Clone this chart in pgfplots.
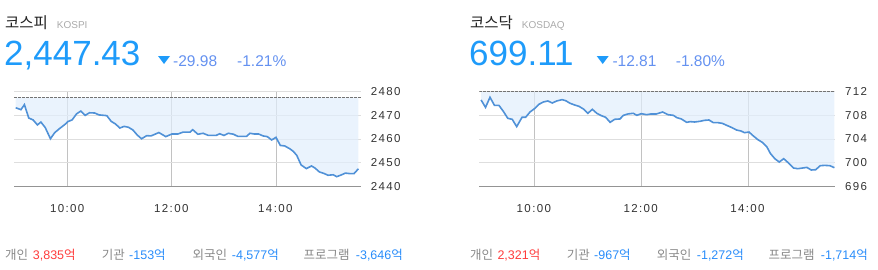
\documentclass[border=0pt]{standalone}
\usepackage{pgfplots}
\pgfplotsset{compat=1.18}
\usepackage{pgfplotstable}
\usepgfplotslibrary{fillbetween}
\usepackage{fontspec}
\setmainfont{Liberation Sans}
\newfontfamily\kr{Noto Sans CJK KR}
\newfontfamily\tickfont[LetterSpace=12]{Liberation Sans}
\definecolor{bignum}{RGB}{30,155,250}
\definecolor{chg}{RGB}{100,145,240}
\definecolor{lineblue}{RGB}{80,145,215}
\definecolor{fillblue}{RGB}{225,238,252}
\definecolor{upred}{RGB}{255,60,60}
\definecolor{dnblue}{RGB}{40,140,250}
\definecolor{lblgray}{RGB}{136,136,136}
\definecolor{ticktxt}{RGB}{51,51,51}
\definecolor{titlec}{RGB}{34,34,34}
\definecolor{subc}{RGB}{170,170,170}

\pgfplotstableread{
t v
0 2473.1
6 2472.3
10 2474.4
15 2468.8
20 2468.0
25 2465.9
29 2467.1
34 2464.8
40 2460.1
45 2462.7
51 2464.5
57 2466.2
60 2467.3
65 2468.0
70 2470.5
75 2471.7
80 2469.9
85 2471.0
91 2470.9
96 2470.1
105 2469.8
110 2467.4
115 2466.3
120 2464.6
125 2465.3
130 2464.9
135 2463.8
140 2461.7
145 2460.1
151 2461.4
156 2461.3
165 2462.7
173 2461.0
180 2462.1
187 2462.1
193 2462.9
201 2462.9
204 2463.9
210 2462.0
216 2462.4
222 2461.5
231 2461.5
235 2462.2
240 2461.5
245 2462.4
251 2462.0
256 2461.1
266 2461.1
270 2462.4
275 2462.1
280 2462.1
285 2461.3
290 2461.0
295 2459.6
300 2460.7
305 2457.3
310 2457.1
316 2455.9
320 2454.8
324 2453.1
329 2449.1
335 2447.6
341 2448.7
345 2447.8
350 2446.2
355 2445.6
360 2444.8
366 2445.0
370 2444.2
375 2444.9
380 2445.7
385 2445.5
390 2445.5
395 2447.5
}\kospi

\pgfplotstableread{
t v
0 710.55
5 709.3
10 711.0
15 709.65
20 709.65
25 708.64
30 707.47
35 707.30
40 706.07
46 707.64
50 707.64
55 708.53
60 709.09
65 709.82
70 710.21
75 710.38
80 710.04
85 710.38
91 710.60
95 710.43
100 709.99
105 709.71
110 709.48
115 709.03
120 708.31
125 708.98
130 708.31
135 707.92
140 707.64
145 706.80
150 707.30
156 707.36
160 707.97
165 708.20
171 708.31
175 707.97
180 708.25
186 708.08
191 708.20
197 708.20
204 708.53
210 708.08
216 707.97
220 707.58
225 707.36
231 706.80
235 706.91
240 706.85
246 706.97
251 707.13
256 707.19
261 706.74
266 706.74
271 706.63
276 706.29
282 705.90
287 705.51
292 705.34
296 705.06
301 705.17
306 704.50
311 703.89
316 703.44
321 702.71
325 701.59
330 700.70
335 700.14
340 700.70
345 700.03
351 699.13
356 699.02
361 699.13
366 699.24
371 698.80
376 698.85
381 699.52
386 699.58
392 699.52
397 699.19
}\kosdaq

\pgfplotsset{
  mini/.style={
    scale only axis, height=95.4pt,
    xmin=-2, xmax=398,
    axis x line*=bottom, axis y line*=right,
    x axis line style={draw=black!42, line width=0.8pt, -},
    y axis line style={draw=none},
    xtick={60,180,300}, xticklabels={10:00,12:00,14:00},
    xmajorgrids, ymajorgrids,
    major x grid style={color=black!24, line width=0.8pt},
    major y grid style={color=black!13, line width=0.8pt},
    tick style={draw=none},
    ticklabel style={font=\tickfont\fontsize{11.5}{12}\selectfont, text=ticktxt},
    /pgf/number format/assume math mode=true,
    /pgf/number format/set thousands separator={},
    yticklabel style={anchor=west, inner sep=0pt, xshift=9.7pt},
    xticklabel style={anchor=north, inner sep=0pt, yshift=-17.3pt, xshift=-0.6pt},
  }
}

\begin{document}
\begin{tikzpicture}

% ---------- KOSPI ----------
\node[anchor=base west, inner sep=0pt, text=titlec] at (5pt,241pt) {\kr\fontsize{15.5}{16}\selectfont 코스피};
\node[anchor=base west, inner sep=0pt, text=subc] at (56.7pt,241pt) {\fontsize{10}{10}\selectfont KOSPI};
\node[anchor=base west, inner sep=0pt, text=bignum] at (4pt,203.3pt) {\fontsize{35}{35}\selectfont 2,447.43};
\fill[bignum] (158pt,213pt) -- (170pt,213pt) -- (164pt,205pt) -- cycle;
\node[anchor=base west, inner sep=0pt, text=chg] at (173pt,203pt) {\fontsize{15.5}{16}\selectfont -29.98};
\node[anchor=base west, inner sep=0pt, text=chg] at (237pt,203pt) {\fontsize{15.5}{16}\selectfont -1.21\%};

\begin{axis}[mini, at={(14pt,82.3pt)}, anchor=south west, width=347pt,
  ymin=2440, ymax=2480, ytick={2440,2450,2460,2470,2480}]
  \addplot[name path=prevA, draw=none] coordinates {(0,2477.41) (395,2477.41)};
  \addplot[name path=serA, draw=lineblue, line width=1.6pt] table[x=t,y=v] {\kospi};
  \addplot[fill=fillblue, fill opacity=0.7, draw=none] fill between[of=serA and prevA];
  \addplot[draw=black!55, dash pattern=on 2.5pt off 1.5pt, line width=0.7pt] coordinates {(-2,2477.41) (398,2477.41)};
\end{axis}

\node[anchor=base west, inner sep=0pt, text=lblgray] at (5pt,10pt) {\kr\fontsize{12.5}{13}\selectfont 개인};
\node[anchor=base west, inner sep=0pt, text=upred] at (32.7pt,10pt) {\fontsize{12.5}{13}\selectfont 3,835{\kr 억}};
\node[anchor=base west, inner sep=0pt, text=lblgray] at (101.7pt,10pt) {\kr\fontsize{12.5}{13}\selectfont 기관};
\node[anchor=base west, inner sep=0pt, text=dnblue] at (129pt,10pt) {\fontsize{12.5}{13}\selectfont -153{\kr 억}};
\node[anchor=base west, inner sep=0pt, text=lblgray] at (192.3pt,10pt) {\kr\fontsize{12.5}{13}\selectfont 외국인};
\node[anchor=base west, inner sep=0pt, text=dnblue] at (231.7pt,10pt) {\fontsize{12.5}{13}\selectfont -4,577{\kr 억}};
\node[anchor=base west, inner sep=0pt, text=lblgray] at (303.3pt,10pt) {\kr\fontsize{12.5}{13}\selectfont 프로그램};
\node[anchor=base west, inner sep=0pt, text=dnblue] at (355.7pt,10pt) {\fontsize{12.5}{13}\selectfont -3,646{\kr 억}};

% ---------- KOSDAQ ----------
\node[anchor=base west, inner sep=0pt, text=titlec] at (470pt,241pt) {\kr\fontsize{15.5}{16}\selectfont 코스닥};
\node[anchor=base west, inner sep=0pt, text=subc] at (521.7pt,241pt) {\fontsize{10}{10}\selectfont KOSDAQ};
\node[anchor=base west, inner sep=0pt, text=bignum] at (469pt,203.3pt) {\fontsize{35}{35}\selectfont 699.11};
\fill[bignum] (596.7pt,213pt) -- (608.7pt,213pt) -- (602.7pt,205pt) -- cycle;
\node[anchor=base west, inner sep=0pt, text=chg] at (612.3pt,203pt) {\fontsize{15.5}{16}\selectfont -12.81};
\node[anchor=base west, inner sep=0pt, text=chg] at (675.7pt,203pt) {\fontsize{15.5}{16}\selectfont -1.80\%};

\begin{axis}[mini, at={(479.3pt,82.3pt)}, anchor=south west, width=356pt,
  ymin=696, ymax=712, ytick={696,700,704,708,712}]
  \addplot[name path=prevB, draw=none] coordinates {(0,711.92) (397,711.92)};
  \addplot[name path=serB, draw=lineblue, line width=1.6pt] table[x=t,y=v] {\kosdaq};
  \addplot[fill=fillblue, fill opacity=0.7, draw=none] fill between[of=serB and prevB];
  \addplot[draw=black!55, dash pattern=on 2.5pt off 1.5pt, line width=0.7pt] coordinates {(-2,711.92) (398,711.92)};
\end{axis}

\node[anchor=base west, inner sep=0pt, text=lblgray] at (470pt,10pt) {\kr\fontsize{12.5}{13}\selectfont 개인};
\node[anchor=base west, inner sep=0pt, text=upred] at (497.3pt,10pt) {\fontsize{12.5}{13}\selectfont 2,321{\kr 억}};
\node[anchor=base west, inner sep=0pt, text=lblgray] at (566.7pt,10pt) {\kr\fontsize{12.5}{13}\selectfont 기관};
\node[anchor=base west, inner sep=0pt, text=dnblue] at (594pt,10pt) {\fontsize{12.5}{13}\selectfont -967{\kr 억}};
\node[anchor=base west, inner sep=0pt, text=lblgray] at (656.7pt,10pt) {\kr\fontsize{12.5}{13}\selectfont 외국인};
\node[anchor=base west, inner sep=0pt, text=dnblue] at (696.7pt,10pt) {\fontsize{12.5}{13}\selectfont -1,272{\kr 억}};
\node[anchor=base west, inner sep=0pt, text=lblgray] at (768.3pt,10pt) {\kr\fontsize{12.5}{13}\selectfont 프로그램};
\node[anchor=base west, inner sep=0pt, text=dnblue] at (820.7pt,10pt) {\fontsize{12.5}{13}\selectfont -1,714{\kr 억}};

\pgfresetboundingbox
\path[use as bounding box] (0,0) rectangle (878pt,269pt);
\end{tikzpicture}
\end{document}
